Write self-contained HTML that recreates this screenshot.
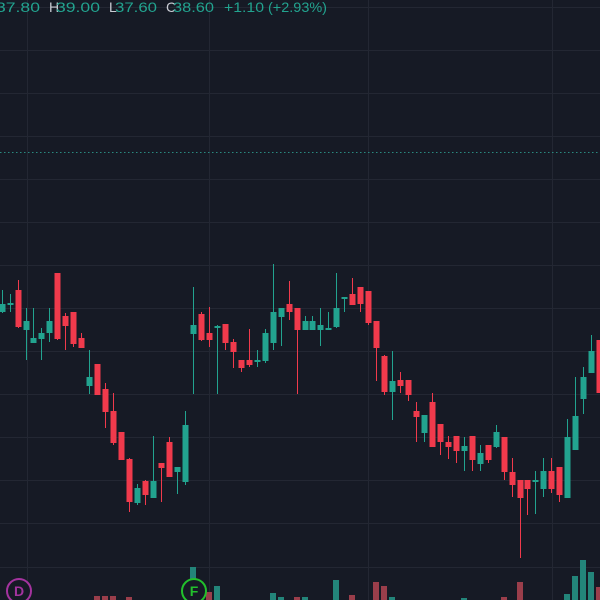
<!DOCTYPE html>
<html><head><meta charset="utf-8"><style>
html,body{margin:0;padding:0;background:#161a25;}
svg{display:block;}
</style></head><body>
<svg width="600" height="600" viewBox="0 0 600 600" xmlns="http://www.w3.org/2000/svg">
<rect width="600" height="600" fill="#161a25"/>
<g stroke="#232733" stroke-width="1" shape-rendering="crispEdges">
<line x1="0" y1="7.5" x2="600" y2="7.5"/>
<line x1="0" y1="50.5" x2="600" y2="50.5"/>
<line x1="0" y1="93.5" x2="600" y2="93.5"/>
<line x1="0" y1="136.5" x2="600" y2="136.5"/>
<line x1="0" y1="179.5" x2="600" y2="179.5"/>
<line x1="0" y1="222.5" x2="600" y2="222.5"/>
<line x1="0" y1="265.5" x2="600" y2="265.5"/>
<line x1="0" y1="308.5" x2="600" y2="308.5"/>
<line x1="0" y1="351.5" x2="600" y2="351.5"/>
<line x1="0" y1="394.5" x2="600" y2="394.5"/>
<line x1="0" y1="437.5" x2="600" y2="437.5"/>
<line x1="0" y1="480.5" x2="600" y2="480.5"/>
<line x1="0" y1="523.5" x2="600" y2="523.5"/>
<line x1="0" y1="567.5" x2="600" y2="567.5"/>
<line x1="27.5" y1="0" x2="27.5" y2="600"/>
<line x1="209.5" y1="0" x2="209.5" y2="600"/>
<line x1="368.5" y1="0" x2="368.5" y2="600"/>
<line x1="552.5" y1="0" x2="552.5" y2="600"/>
</g>
<line x1="0" y1="152.5" x2="600" y2="152.5" stroke="#2a8a80" stroke-width="1" stroke-dasharray="1.5 2.5" shape-rendering="crispEdges"/>
<g shape-rendering="crispEdges">
<rect x="94" y="596" width="6" height="4" fill="#9a3e4b"/>
<rect x="102" y="596" width="6" height="4" fill="#9a3e4b"/>
<rect x="110" y="596" width="6" height="4" fill="#9a3e4b"/>
<rect x="126" y="597" width="6" height="3" fill="#9a3e4b"/>
<rect x="190" y="567" width="6" height="33" fill="#23857a"/>
<rect x="206" y="592" width="6" height="8" fill="#9a3e4b"/>
<rect x="214" y="586" width="6" height="14" fill="#23857a"/>
<rect x="270" y="593" width="6" height="7" fill="#23857a"/>
<rect x="278" y="597" width="6" height="3" fill="#23857a"/>
<rect x="294" y="597" width="6" height="3" fill="#9a3e4b"/>
<rect x="302" y="597" width="6" height="3" fill="#23857a"/>
<rect x="333" y="580" width="6" height="20" fill="#23857a"/>
<rect x="349" y="595" width="6" height="5" fill="#9a3e4b"/>
<rect x="373" y="582" width="6" height="18" fill="#9a3e4b"/>
<rect x="381" y="586" width="6" height="14" fill="#9a3e4b"/>
<rect x="389" y="597" width="6" height="3" fill="#23857a"/>
<rect x="461" y="598" width="6" height="2" fill="#23857a"/>
<rect x="501" y="597" width="6" height="3" fill="#9a3e4b"/>
<rect x="517" y="582" width="6" height="18" fill="#9a3e4b"/>
<rect x="564" y="594" width="6" height="6" fill="#23857a"/>
<rect x="572" y="576" width="6" height="24" fill="#23857a"/>
<rect x="580" y="560" width="6" height="40" fill="#23857a"/>
<rect x="588" y="572" width="6" height="28" fill="#23857a"/>
<rect x="596" y="587" width="6" height="13" fill="#9a3e4b"/>
</g>
<g fill="#22a38f">
<rect x="2" y="290" width="1" height="23"/><rect x="-0.5" y="304" width="6" height="8"/>
<rect x="10" y="294" width="1" height="18"/><rect x="7.5" y="303" width="6" height="2"/>
<rect x="26" y="308" width="1" height="52"/><rect x="23.5" y="321" width="6" height="9"/>
<rect x="33" y="308" width="1" height="35"/><rect x="30.5" y="338" width="6" height="5"/>
<rect x="41" y="328" width="1" height="32"/><rect x="38.5" y="333" width="6" height="6"/>
<rect x="49" y="308" width="1" height="34"/><rect x="46.5" y="321" width="6" height="12"/>
<rect x="89" y="350" width="1" height="44"/><rect x="86.5" y="377" width="6" height="9"/>
<rect x="137" y="484" width="1" height="21"/><rect x="134.5" y="488" width="6" height="15"/>
<rect x="153" y="436" width="1" height="62"/><rect x="150.5" y="481" width="6" height="17"/>
<rect x="177" y="467" width="1" height="27"/><rect x="174.5" y="467" width="6" height="5"/>
<rect x="185" y="411" width="1" height="74"/><rect x="182.5" y="425" width="6" height="57"/>
<rect x="193" y="287" width="1" height="107"/><rect x="190.5" y="325" width="6" height="9"/>
<rect x="217" y="325" width="1" height="69"/><rect x="214.5" y="326" width="6" height="2"/>
<rect x="257" y="350" width="1" height="17"/><rect x="254.5" y="360" width="6" height="2"/>
<rect x="265" y="329" width="1" height="34"/><rect x="262.5" y="333" width="6" height="28"/>
<rect x="273" y="264" width="1" height="86"/><rect x="270.5" y="312" width="6" height="31"/>
<rect x="281" y="308" width="1" height="38"/><rect x="278.5" y="308" width="6" height="9"/>
<rect x="305" y="316" width="1" height="14"/><rect x="302.5" y="321" width="6" height="9"/>
<rect x="312" y="316" width="1" height="14"/><rect x="309.5" y="321" width="6" height="9"/>
<rect x="320" y="308" width="1" height="38"/><rect x="317.5" y="325" width="6" height="5"/>
<rect x="328" y="312" width="1" height="18"/><rect x="325.5" y="328" width="6" height="2"/>
<rect x="336" y="273" width="1" height="55"/><rect x="333.5" y="308" width="6" height="19"/>
<rect x="344" y="298" width="1" height="14"/><rect x="341.5" y="297" width="6" height="2"/>
<rect x="392" y="351" width="1" height="69"/><rect x="389.5" y="381" width="6" height="11"/>
<rect x="424" y="415" width="1" height="27"/><rect x="421.5" y="415" width="6" height="18"/>
<rect x="464" y="437" width="1" height="34"/><rect x="461.5" y="446" width="6" height="5"/>
<rect x="480" y="445" width="1" height="26"/><rect x="477.5" y="453" width="6" height="11"/>
<rect x="496" y="425" width="1" height="23"/><rect x="493.5" y="432" width="6" height="15"/>
<rect x="535" y="471" width="1" height="43"/><rect x="532.5" y="480" width="6" height="2"/>
<rect x="543" y="458" width="1" height="39"/><rect x="540.5" y="471" width="6" height="18"/>
<rect x="567" y="419" width="1" height="79"/><rect x="564.5" y="437" width="6" height="61"/>
<rect x="575" y="377" width="1" height="73"/><rect x="572.5" y="416" width="6" height="34"/>
<rect x="583" y="367" width="1" height="47"/><rect x="580.5" y="377" width="6" height="22"/>
<rect x="591" y="335" width="1" height="38"/><rect x="588.5" y="351" width="6" height="22"/>
</g>
<g fill="#f03a4c">
<rect x="18" y="280" width="1" height="48"/><rect x="15.5" y="290" width="6" height="37"/>
<rect x="57" y="273" width="1" height="67"/><rect x="54.5" y="273" width="6" height="66"/>
<rect x="65" y="313" width="1" height="37"/><rect x="62.5" y="316" width="6" height="10"/>
<rect x="73" y="312" width="1" height="35"/><rect x="70.5" y="312" width="6" height="32"/>
<rect x="81" y="333" width="1" height="15"/><rect x="78.5" y="338" width="6" height="10"/>
<rect x="97" y="364" width="1" height="31"/><rect x="94.5" y="364" width="6" height="31"/>
<rect x="105" y="383" width="1" height="45"/><rect x="102.5" y="389" width="6" height="23"/>
<rect x="113" y="393" width="1" height="52"/><rect x="110.5" y="411" width="6" height="32"/>
<rect x="121" y="432" width="1" height="28"/><rect x="118.5" y="432" width="6" height="28"/>
<rect x="129" y="458" width="1" height="54"/><rect x="126.5" y="459" width="6" height="43"/>
<rect x="145" y="480" width="1" height="25"/><rect x="142.5" y="481" width="6" height="14"/>
<rect x="161" y="463" width="1" height="39"/><rect x="158.5" y="463" width="6" height="5"/>
<rect x="169" y="437" width="1" height="40"/><rect x="166.5" y="442" width="6" height="35"/>
<rect x="201" y="312" width="1" height="29"/><rect x="198.5" y="314" width="6" height="26"/>
<rect x="209" y="307" width="1" height="40"/><rect x="206.5" y="333" width="6" height="7"/>
<rect x="225" y="324" width="1" height="26"/><rect x="222.5" y="324" width="6" height="19"/>
<rect x="233" y="339" width="1" height="29"/><rect x="230.5" y="342" width="6" height="10"/>
<rect x="241" y="360" width="1" height="12"/><rect x="238.5" y="360" width="6" height="8"/>
<rect x="249" y="329" width="1" height="38"/><rect x="246.5" y="360" width="6" height="5"/>
<rect x="289" y="281" width="1" height="39"/><rect x="286.5" y="304" width="6" height="8"/>
<rect x="297" y="308" width="1" height="86"/><rect x="294.5" y="308" width="6" height="22"/>
<rect x="352" y="278" width="1" height="27"/><rect x="349.5" y="294" width="6" height="11"/>
<rect x="360" y="287" width="1" height="25"/><rect x="357.5" y="287" width="6" height="17"/>
<rect x="368" y="291" width="1" height="34"/><rect x="365.5" y="291" width="6" height="32"/>
<rect x="376" y="321" width="1" height="60"/><rect x="373.5" y="321" width="6" height="27"/>
<rect x="384" y="355" width="1" height="40"/><rect x="381.5" y="356" width="6" height="36"/>
<rect x="400" y="372" width="1" height="21"/><rect x="397.5" y="380" width="6" height="6"/>
<rect x="408" y="380" width="1" height="21"/><rect x="405.5" y="380" width="6" height="15"/>
<rect x="416" y="402" width="1" height="40"/><rect x="413.5" y="411" width="6" height="6"/>
<rect x="432" y="393" width="1" height="54"/><rect x="429.5" y="402" width="6" height="45"/>
<rect x="440" y="424" width="1" height="31"/><rect x="437.5" y="424" width="6" height="18"/>
<rect x="448" y="436" width="1" height="23"/><rect x="445.5" y="442" width="6" height="5"/>
<rect x="456" y="436" width="1" height="27"/><rect x="453.5" y="436" width="6" height="15"/>
<rect x="472" y="436" width="1" height="35"/><rect x="469.5" y="436" width="6" height="24"/>
<rect x="488" y="445" width="1" height="18"/><rect x="485.5" y="445" width="6" height="15"/>
<rect x="504" y="437" width="1" height="43"/><rect x="501.5" y="437" width="6" height="35"/>
<rect x="512" y="458" width="1" height="39"/><rect x="509.5" y="472" width="6" height="13"/>
<rect x="520" y="480" width="1" height="78"/><rect x="517.5" y="480" width="6" height="18"/>
<rect x="527" y="480" width="1" height="35"/><rect x="524.5" y="480" width="6" height="9"/>
<rect x="551" y="458" width="1" height="35"/><rect x="548.5" y="471" width="6" height="18"/>
<rect x="559" y="467" width="1" height="35"/><rect x="556.5" y="467" width="6" height="28"/>
<rect x="599" y="340" width="1" height="53"/><rect x="596.5" y="340" width="6" height="53"/>
</g>
<circle cx="19" cy="591" r="12" fill="#161a25" stroke="#a4339f" stroke-width="2"/>
<text x="19" y="596" font-family="Liberation Sans, sans-serif" font-size="14" font-weight="bold" fill="#a4339f" text-anchor="middle">D</text>
<circle cx="194" cy="591" r="12" fill="#161a25" stroke="#22c02c" stroke-width="2"/>
<text x="194" y="596" font-family="Liberation Sans, sans-serif" font-size="14" font-weight="bold" fill="#22c02c" text-anchor="middle">F</text>
<g font-family="Liberation Sans, sans-serif" font-size="14">
<text x="-4" y="12" fill="#22a38f" textLength="44" lengthAdjust="spacingAndGlyphs">37.80</text>
<text x="49" y="12" fill="#c9ccd4">H</text>
<text x="56" y="12" fill="#22a38f" textLength="44" lengthAdjust="spacingAndGlyphs">39.00</text>
<text x="109" y="12" fill="#c9ccd4">L</text>
<text x="115" y="12" fill="#22a38f" textLength="42" lengthAdjust="spacingAndGlyphs">37.60</text>
<text x="166" y="12" fill="#c9ccd4">C</text>
<text x="173" y="12" fill="#22a38f" textLength="41" lengthAdjust="spacingAndGlyphs">38.60</text>
<text x="224" y="12" fill="#22a38f" textLength="40" lengthAdjust="spacingAndGlyphs">+1.10</text>
<text x="268" y="12" fill="#22a38f" textLength="59" lengthAdjust="spacingAndGlyphs">(+2.93%)</text>
</g>
</svg>
</body></html>
